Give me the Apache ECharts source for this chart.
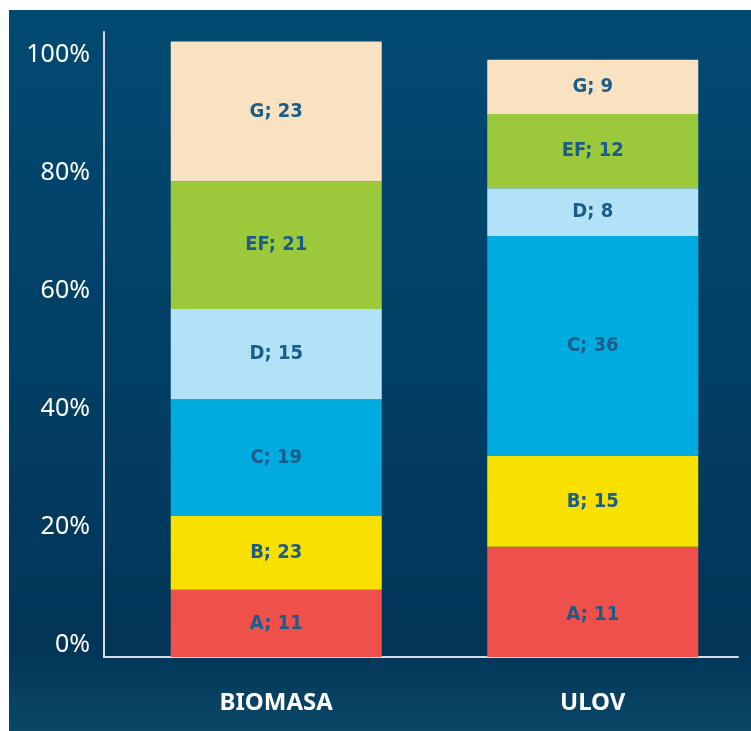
<!DOCTYPE html>
<html>
<head>
<meta charset="utf-8">
<script src="https://cdn.jsdelivr.net/npm/echarts@6/dist/echarts.min.js"></script>
<style>
  html, body { margin: 0; padding: 0; background: #ffffff; }
  #chart { width: 751px; height: 731px; }
</style>
</head>
<body>
<div id="chart"></div>
<script>
// categories on the x axis
const groups = ['BIOMASA', 'ULOV'];
// stack classes, bottom to top
const classes = ['A', 'B', 'C', 'D', 'EF', 'G'];
const classColors = ['#ef504c', '#f8e100', '#00abe0', '#b2e2f8', '#9cc83c', '#f9e2c2'];

// bar segment heights (%), one array per class: [BIOMASA, ULOV]
const valuesA = [11.4, 18.7];
const valuesB = [12.6, 15.4];
const valuesC = [19.7, 37.3];
const valuesD = [15.3, 8.1];
const valuesEF = [21.7, 12.6];
const valuesG = [23.7, 9.2];

// the numbers printed in the segments
const printedA = [11, 11];
const printedB = [23, 15];
const printedC = [19, 36];
const printedD = [15, 8];
const printedEF = [21, 12];
const printedG = [23, 9];

// y axis tick values
const yTicks = [0, 20, 40, 60, 80, 100];

const allValues = [valuesA, valuesB, valuesC, valuesD, valuesEF, valuesG];
const allPrinted = [printedA, printedB, printedC, printedD, printedEF, printedG];

const labelFont = '"DejaVu Sans Condensed", "Liberation Sans Narrow", "DejaVu Sans", sans-serif';

let myChart = echarts.init(document.getElementById('chart'));

let series = classes.map((cls, i) => ({
  name: cls,
  type: 'bar',
  stack: 'total',
  xAxisIndex: 1,
  yAxisIndex: 1,
  barWidth: 211,
  itemStyle: { color: classColors[i] },
  label: {
    show: true,
    position: 'inside',
    color: '#1b5d89',
    fontFamily: labelFont,
    fontWeight: 'bold',
    fontSize: 20,
    formatter: p => cls + '; ' + allPrinted[i][p.dataIndex]
  },
  data: allValues[i].map((v, j) => {
    // the A label in ULOV sits lower than the middle of its block
    if (cls === 'A' && j === 1) return { value: v, label: { offset: [0, 13] } };
    return v;
  })
}));

let option = {
  backgroundColor: '#ffffff',
  animation: false,
  graphic: [{
    type: 'rect',
    z: -10,
    silent: true,
    shape: { x: 9, y: 10, width: 742, height: 721 },
    style: {
      fill: new echarts.graphic.LinearGradient(0, 0, 0, 1, [
        { offset: 0, color: '#024a72' },
        { offset: 0.5, color: '#023f64' },
        { offset: 0.88, color: '#023558' },
        { offset: 1, color: '#0a4767' }
      ])
    }
  }],
  grid: [
    { left: 104, right: 13, top: 32, bottom: 74 },
    { left: 118, width: 636, top: 32, bottom: 74 }
  ],
  xAxis: [
    {
      gridIndex: 0,
      type: 'value',
      min: 0,
      max: 1,
      axisLine: { show: true, lineStyle: { color: '#d3dbe3', width: 2 } },
      axisTick: { show: false },
      axisLabel: { show: false },
      splitLine: { show: false }
    },
    {
      gridIndex: 1,
      type: 'category',
      data: groups,
      axisLine: { show: false },
      axisTick: { show: false },
      axisLabel: {
        color: '#ffffff',
        fontFamily: '"Noto Sans", sans-serif',
        fontWeight: 'bold',
        fontSize: 24,
        margin: 34
      }
    }
  ],
  yAxis: [
    {
      gridIndex: 0,
      type: 'value',
      min: 0,
      max: 106,
      interval: 20,
      axisLine: { show: true, lineStyle: { color: '#d3dbe3', width: 2 } },
      axisTick: { show: false },
      splitLine: { show: false },
      axisLabel: {
        color: '#ffffff',
        fontFamily: '"Noto Sans", sans-serif',
        fontSize: 25,
        margin: 14,
        verticalAlign: 'bottom',
        customValues: yTicks,
        formatter: v => (v > 100 ? '' : v + '%')
      }
    },
    {
      gridIndex: 1,
      type: 'value',
      min: 0,
      max: 106,
      show: false
    }
  ],
  series: series
};

myChart.setOption(option);
</script>
</body>
</html>
